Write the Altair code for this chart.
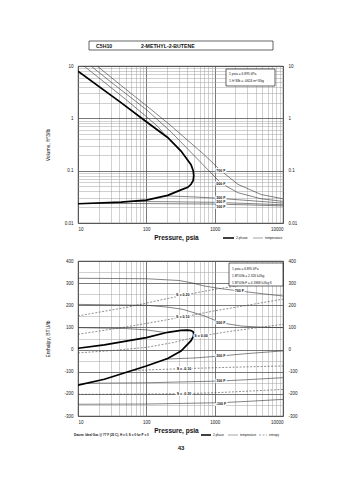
import altair as alt
import pandas as pd

FONT = "Liberation Sans"

# ---------------- grid / tick values ----------------
X_GRID = [m * 10 ** e for e in (1, 2, 3) for m in range(1, 10)] + [10000]
X_MAJOR = [10, 100, 1000, 10000]
Y_GRID_TOP = [round(m * d, 3) for d in (0.01, 0.1, 1) for m in range(1, 10)] + [10]
Y_MAJOR_TOP = [0.01, 0.1, 1, 10]
Y_GRID_BOT = list(range(-300, 401, 50))
Y_MAJOR_BOT = list(range(-300, 401, 100))

# ---------------- top chart: volume vs pressure ----------------
V_SAT_P = [10, 42.6, 100, 205, 322, 404, 451, 485, 494, 485, 451, 322, 205, 100, 42.6, 10]
V_SAT_V = [0.0233, 0.0251, 0.0274, 0.0337, 0.043, 0.048, 0.055, 0.065, 0.08,
           0.10, 0.13, 0.237, 0.43, 0.86, 2.0, 8.0]

V_T700_P = [19, 50, 100, 230, 708, 1233, 2178, 4786, 10000]
V_T700_V = [10, 3.6, 1.75, 0.72, 0.2, 0.1, 0.055, 0.035, 0.029]
V_T500_P = [15.5, 30, 100, 230, 708, 1233, 2178, 4786, 10000]
V_T500_V = [10, 5.0, 1.47, 0.55, 0.122, 0.058, 0.038, 0.029, 0.0259]
V_T300V_P = [12.2, 20, 50, 100, 150, 190]
V_T300V_V = [10, 6.0, 2.3, 1.08, 0.68, 0.47]
V_T300L_P = [190, 500, 1000, 3000, 10000]
V_T300L_V = [0.033, 0.0315, 0.030, 0.027, 0.024]
V_T200L_P = [60, 200, 1000, 3000, 10000]
V_T200L_V = [0.0258, 0.0255, 0.0248, 0.0236, 0.0223]
V_T100L_P = [14, 100, 1000, 3000, 10000]
V_T100L_V = [0.0236, 0.0235, 0.0230, 0.0222, 0.0212]

V_LBL_P = [1233, 1233, 1233, 1233, 1233]
V_LBL_V = [0.1, 0.056, 0.0298, 0.0251, 0.0205]
V_LBL_T = ["700 F", "500 F", "300 F", "200 F", "100 F"]

# ---------------- bottom chart: enthalpy vs pressure ----------------
H_SAT_P = [10, 24.3, 100, 205, 322, 451, 485, 494, 485, 450, 400, 322, 205, 100, 24.3, 10]
H_SAT_H = [-161, -134, -74, -40, -6.5, 40, 58, 69, 80, 86, 87.5, 87, 78, 54, 21, 6]

H_T700_P = [10, 100, 300, 451, 708, 1233, 2300, 5000, 10000]
H_T700_H = [322, 320, 312, 302, 287, 275, 265, 252, 242]
H_T500_P = [10, 100, 200, 340, 708, 1233, 2500, 5000, 10000]
H_T500_H = [204, 200, 192, 182, 152, 121, 106, 101, 99]
H_T300V_P = [10, 50, 100, 190]
H_T300V_H = [99, 95, 89, 77]
H_T300L_P = [190, 500, 1233, 3000, 10000]
H_T300L_H = [-43, -38, -29, -18, -6]
H_T100L_P = [14, 100, 1233, 3000, 10000]
H_T100L_H = [-152, -150, -142, -136, -127]
H_TM100_P = [10, 100, 1233, 3000, 10000]
H_TM100_H = [-247, -246, -240, -234, -225]

H_S20_P = [10, 50, 100, 341, 1000, 3000, 10000]
H_S20_H = [152, 190, 210, 245, 272, 295, 318]
H_S10_P = [10, 50, 100, 341, 1000, 3000, 10000]
H_S10_H = [69, 102, 118, 147, 175, 200, 228]
H_S00_P = [10, 30, 100, 250, 494, 633, 1500, 4000, 10000]
H_S00_H = [-15, -5, 10, 32, 55, 61, 80, 98, 114]
H_SM10_P = [60, 100, 356, 1000, 3000, 10000]
H_SM10_H = [-95, -92, -86, -82, -78, -74]
H_SM20_P = [10, 100, 356, 1000, 3000, 10000]
H_SM20_H = [-202, -201, -199, -195, -188, -180]

H_TLBL_P = [2300, 1233, 1233, 1233, 1233]
H_TLBL_H = [265, 121, -29, -142, -244]
H_TLBL_T = ["700 F", "500 F", "300 F", "100 F", "-100 F"]
H_SLBL_P = [341, 341, 633, 356, 356]
H_SLBL_H = [245, 147, 61, -86, -199]
H_SLBL_T = ["S = 0.20", "S = 0.10", "S = 0.00", "S = -0.10", "S = -0.20"]


def frame(name, ps, ys):
    return pd.DataFrame({"P": ps, "Y": ys, "series": name, "order": list(range(len(ps)))})


def labels(ps, ys, ts):
    return pd.DataFrame({"P": ps, "Y": ys, "label": ts})


ONE = pd.DataFrame({"a": [0]})

XS = alt.Scale(type="log", domain=[10, 10000], nice=False)
YS_TOP = alt.Scale(type="log", domain=[0.01, 10], nice=False)
YS_BOT = alt.Scale(domain=[-300, 400], nice=False, zero=False)


def grid_cond(major, dark, light):
    return {"condition": {"test": "indexof(%s, datum.value) >= 0" % major, "value": dark}, "value": light}


X_AXIS = alt.Axis(values=X_GRID, labelExpr="indexof(%s, datum.value) >= 0 ? '' + datum.value : ''" % X_MAJOR,
                  title="Pressure,  psia", grid=True,
                  gridColor=grid_cond(X_MAJOR, "#555555", "#a0a0a0"),
                  gridWidth=grid_cond(X_MAJOR, 0.8, 0.5),
                  ticks=False, domain=False, labelFontSize=4.5, labelPadding=3, labelOverlap=False,
                  labelColor="#222222", titleFontSize=6.5, titleFontWeight="bold", titleColor="#111111",
                  titleX=98, titleY=11, titleBaseline="top")


def y_axis(values, major, title, orient, grid):
    kw = dict(values=values, labelExpr="indexof(%s, datum.value) >= 0 ? '' + datum.value : ''" % major,
              orient=orient, ticks=False, domain=False, labelFontSize=4.5, labelPadding=5,
              labelOverlap=False, labelColor="#222222", grid=grid)
    if grid:
        kw.update(gridColor=grid_cond(major, "#555555", "#a0a0a0"), gridWidth=grid_cond(major, 0.8, 0.5))
    if title:
        kw.update(title=title, titleFontSize=5, titleFontWeight="normal", titleColor="#111111",
                  titleX=-31, titleAngle=270, titleBaseline="middle", titleAlign="center")
    else:
        kw.update(title=None)
    return alt.Axis(**kw)


def build(sat_df, iso_df, ent_df, lbl_df, ylbl_df, yscale, yaxis_l, yaxis_r, right_vals, extras, w, h):
    xe = alt.X("P:Q", scale=XS, axis=X_AXIS)
    ye = alt.Y("Y:Q", scale=yscale, axis=yaxis_l)
    layers = [
        alt.Chart(iso_df).mark_line(color="#333333", strokeWidth=0.6, clip=True).encode(
            x=xe, y=ye, detail="series:N", order="order:Q"),
    ]
    if ent_df is not None:
        layers.append(alt.Chart(ent_df).mark_line(color="#444444", strokeWidth=0.6, strokeDash=[2, 1.5],
                                                  clip=True).encode(x=xe, y=ye, detail="series:N",
                                                                    order="order:Q"))
    layers.append(alt.Chart(sat_df).mark_line(color="black", strokeWidth=1.7, clip=True).encode(
        x=xe, y=ye, order="order:Q"))
    for ldf in [lbl_df, ylbl_df]:
        if ldf is None:
            continue
        layers.append(alt.Chart(ldf).mark_text(font=FONT, fontSize=3.6, fontWeight="bold", stroke="white",
                                               strokeWidth=2.2).encode(x=xe, y=ye, text="label:N"))
        layers.append(alt.Chart(ldf).mark_text(font=FONT, fontSize=3.6, fontWeight="bold",
                                               color="#111111").encode(x=xe, y=ye, text="label:N"))
    layers += extras
    main = alt.layer(*layers)
    right = alt.Chart(pd.DataFrame({"P": [10] * len(right_vals), "Y": right_vals})).mark_point(
        opacity=0).encode(x=xe, y=alt.Y("Y:Q", scale=yscale, axis=yaxis_r))
    return alt.layer(main, right).resolve_scale(y="independent").properties(width=w, height=h)


def txt(x, y, s, size=3.5, weight="normal", align="left"):
    return alt.Chart(ONE).mark_text(font=FONT, fontSize=size, fontWeight=weight, align=align,
                                    baseline="middle", color="#111111").encode(
        x=alt.value(x), y=alt.value(y), text=alt.value(s))


def box(x1, x2, y1, y2):
    return alt.Chart(ONE).mark_rect(fill="white", stroke="#222222", strokeWidth=0.7).encode(
        x=alt.value(x1), x2=alt.value(x2), y=alt.value(y1), y2=alt.value(y2))


def seg(x1, x2, y, width, color, dash=None):
    kw = dict(color=color, strokeWidth=width)
    if dash:
        kw["strokeDash"] = dash
    return alt.Chart(ONE).mark_rule(**kw).encode(x=alt.value(x1), x2=alt.value(x2), y=alt.value(y))


# ----- top chart -----
top_sat = frame("sat", V_SAT_P, V_SAT_V)
top_iso = pd.concat([frame("700", V_T700_P, V_T700_V), frame("500", V_T500_P, V_T500_V),
                     frame("300v", V_T300V_P, V_T300V_V), frame("300l", V_T300L_P, V_T300L_V),
                     frame("200l", V_T200L_P, V_T200L_V), frame("100l", V_T100L_P, V_T100L_V)])
top_lbl = labels(V_LBL_P, V_LBL_V, V_LBL_T)

anchor = alt.Chart(ONE).mark_rule(color="white", strokeWidth=1).encode(
    x=alt.value(-68.5), x2=alt.value(-68.5), y=alt.value(-56.5), y2=alt.value(-55.5))

top_extras = [
    anchor,
    box(11, 195, -25, -16),
    txt(18, -20.5, "C5H10", 5.2, "bold"),
    txt(63, -20.5, "2-METHYL-2-BUTENE", 5.2, "bold"),
    box(148, 197, 3, 20),
    txt(151, 8, "1 psia = 6.895 kPa", 3.3),
    txt(151, 15, "1 ft^3/lb = .0624 m^3/kg", 3.3),
    seg(145, 156, 172, 1.5, "black"),
    txt(158, 172, "2-phase", 3.2),
    seg(175, 185, 172, 0.6, "#666666"),
    txt(187, 172, "temperature", 3.2),
]

top = build(top_sat, top_iso, None, top_lbl, None, YS_TOP,
            y_axis(Y_GRID_TOP, Y_MAJOR_TOP, "Volume, ft^3/lb", "left", True),
            y_axis(Y_GRID_TOP, Y_MAJOR_TOP, None, "right", False),
            Y_MAJOR_TOP, top_extras, 205, 157)

# ----- bottom chart -----
bot_sat = frame("sat", H_SAT_P, H_SAT_H)
bot_iso = pd.concat([frame("700", H_T700_P, H_T700_H), frame("500", H_T500_P, H_T500_H),
                     frame("300v", H_T300V_P, H_T300V_H), frame("300l", H_T300L_P, H_T300L_H),
                     frame("100l", H_T100L_P, H_T100L_H), frame("m100", H_TM100_P, H_TM100_H)])
bot_ent = pd.concat([frame("s20", H_S20_P, H_S20_H), frame("s10", H_S10_P, H_S10_H),
                     frame("s00", H_S00_P, H_S00_H), frame("sm10", H_SM10_P, H_SM10_H),
                     frame("sm20", H_SM20_P, H_SM20_H)])
bot_tlbl = labels(H_TLBL_P, H_TLBL_H, H_TLBL_T)
bot_slbl = labels(H_SLBL_P, H_SLBL_H, H_SLBL_T)

bot_extras = [
    box(151, 205, 2, 25),
    txt(154, 7.5, "1 psia = 6.895 kPa", 3.2),
    txt(154, 14.5, "1 BTU/lb = 2.326 kJ/kg", 3.2),
    txt(154, 21.5, "1 BTU/lb F = 4.1868 kJ/kg K", 3.2),
    txt(-4, 174, "Datum: Ideal Gas @ 77 F (25 C), H = 0, S = 0 for P = 0", 3.0, "bold"),
    seg(123, 133, 174, 1.5, "black"),
    txt(135, 174, "2-phase", 3.0),
    seg(150, 160, 174, 0.6, "#666666"),
    txt(162, 174, "temperature", 3.0),
    seg(181, 189, 174, 0.6, "#666666", [2, 1.5]),
    txt(191, 174, "entropy", 3.0),
    txt(103, 187, "43", 6, "bold", "center"),
]

bottom = build(bot_sat, bot_iso, bot_ent, bot_tlbl, bot_slbl, YS_BOT,
               y_axis(Y_GRID_BOT, Y_MAJOR_BOT, "Enthalpy, BTU/lb", "left", True),
               y_axis(Y_GRID_BOT, Y_MAJOR_BOT, None, "right", False),
               Y_MAJOR_BOT, bot_extras, 205, 155)

chart = alt.vconcat(top, bottom, spacing=38, bounds="flush").properties(padding=0).configure_view(
    stroke="black", strokeWidth=0.8).configure_axis(labelFont=FONT, titleFont=FONT)

chart.save("out.html", embed_options={"renderer": "svg", "actions": False})
